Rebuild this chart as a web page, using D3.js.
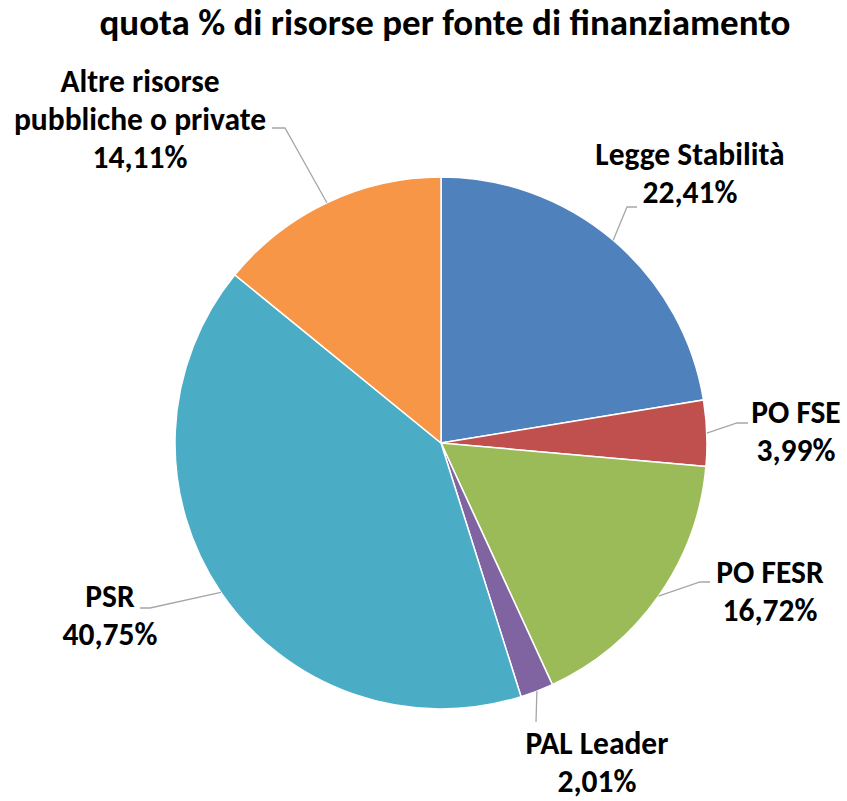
<!DOCTYPE html>
<html>
<head>
<meta charset="utf-8">
<script src="https://cdn.jsdelivr.net/npm/d3@7"></script>
<style>
  body { margin: 0; background: #fff; }
  text { font-family: Carlito, Calibri, Lato, "Open Sans", sans-serif; font-weight: bold; fill: #000; }
</style>
</head>
<body>
<svg id="chart" width="847" height="801"></svg>
<script>
var chartTitle = "quota % di risorse per fonte di finanziamento";
var sources = ["Legge Stabilità", "PO FSE", "PO FESR", "PAL Leader", "PSR", "Altre risorse pubbliche o private"];
var shares = [22.41, 3.99, 16.72, 2.01, 40.75, 14.11];
var labelLines = [["Legge Stabilità"], ["PO FSE"], ["PO FESR"], ["PAL Leader"], ["PSR"], ["Altre risorse", "pubbliche o private"]];
var sliceColors = ["#4F81BD", "#C0504D", "#9BBB59", "#8064A2", "#4BACC6", "#F79646"];

// where the labels sit (label centre x, first baseline y) and the leader elbow / end, relative to pie centre
var labelLayout = [
    {x: 249, y: -278, elbow: [186, -236], end: [196, -236]},
    {x: 355, y: -20,  elbow: [296, -20],  end: [307, -20]},
    {x: 329, y: 140,  elbow: [259, 139],  end: [269, 139]},
    {x: 156, y: 311,  elbow: [95, 279],   end: [95, 279]},
    {x: -331, y: 164, elbow: [-291, 165], end: [-301, 165]},
    {x: -301, y: -351, elbow: [-156, -315], end: [-169, -315]}
];

var cx = 441, cy = 443, radius = 266;
var lineGap = 38;

var svg = d3.select("#chart");

svg.append("text")
    .attr("x", 445)
    .attr("y", 35)
    .attr("text-anchor", "middle")
    .attr("font-size", 37)
    .text(chartTitle);

var data = sources.map(function(s, i){
    return {name: s, value: shares[i], lines: labelLines[i], idx: i};
});

var pie = d3.pie()
    .sort(null)
    .value(function(d){ return d.value; });

var arc = d3.arc()
    .innerRadius(0)
    .outerRadius(radius);

var g = svg.append("g")
    .attr("transform", "translate(" + cx + "," + cy + ")");

var arcs = pie(data);

g.selectAll("path.slice")
    .data(arcs)
    .join("path")
    .attr("class", "slice")
    .attr("d", arc)
    .attr("fill", function(d){ return sliceColors[d.data.idx]; })
    .attr("stroke", "#fff")
    .attr("stroke-width", 1.5);

// leader lines
g.selectAll("polyline.leader")
    .data(arcs)
    .join("polyline")
    .attr("class", "leader")
    .attr("points", function(d){
        var mid = (d.startAngle + d.endAngle) / 2;
        var p0 = [radius * Math.sin(mid), -radius * Math.cos(mid)];
        var lay = labelLayout[d.data.idx];
        return [p0, lay.elbow, lay.end].map(function(p){ return p.join(","); }).join(" ");
    })
    .attr("fill", "none")
    .attr("stroke", "#A6A6A6")
    .attr("stroke-width", 1.3);

// labels
var labels = g.selectAll("text.lbl")
    .data(arcs)
    .join("text")
    .attr("class", "lbl")
    .attr("text-anchor", "middle")
    .attr("font-size", 31.5);

labels.each(function(d){
    var t = d3.select(this);
    var lay = labelLayout[d.data.idx];
    var rows = d.data.lines.concat([d3.format(".2f")(d.data.value).replace(".", ",") + "%"]);
    rows.forEach(function(r, k){
        t.append("tspan")
            .attr("x", lay.x)
            .attr("y", lay.y + k * lineGap)
            .text(r);
    });
});
</script>
</body>
</html>
